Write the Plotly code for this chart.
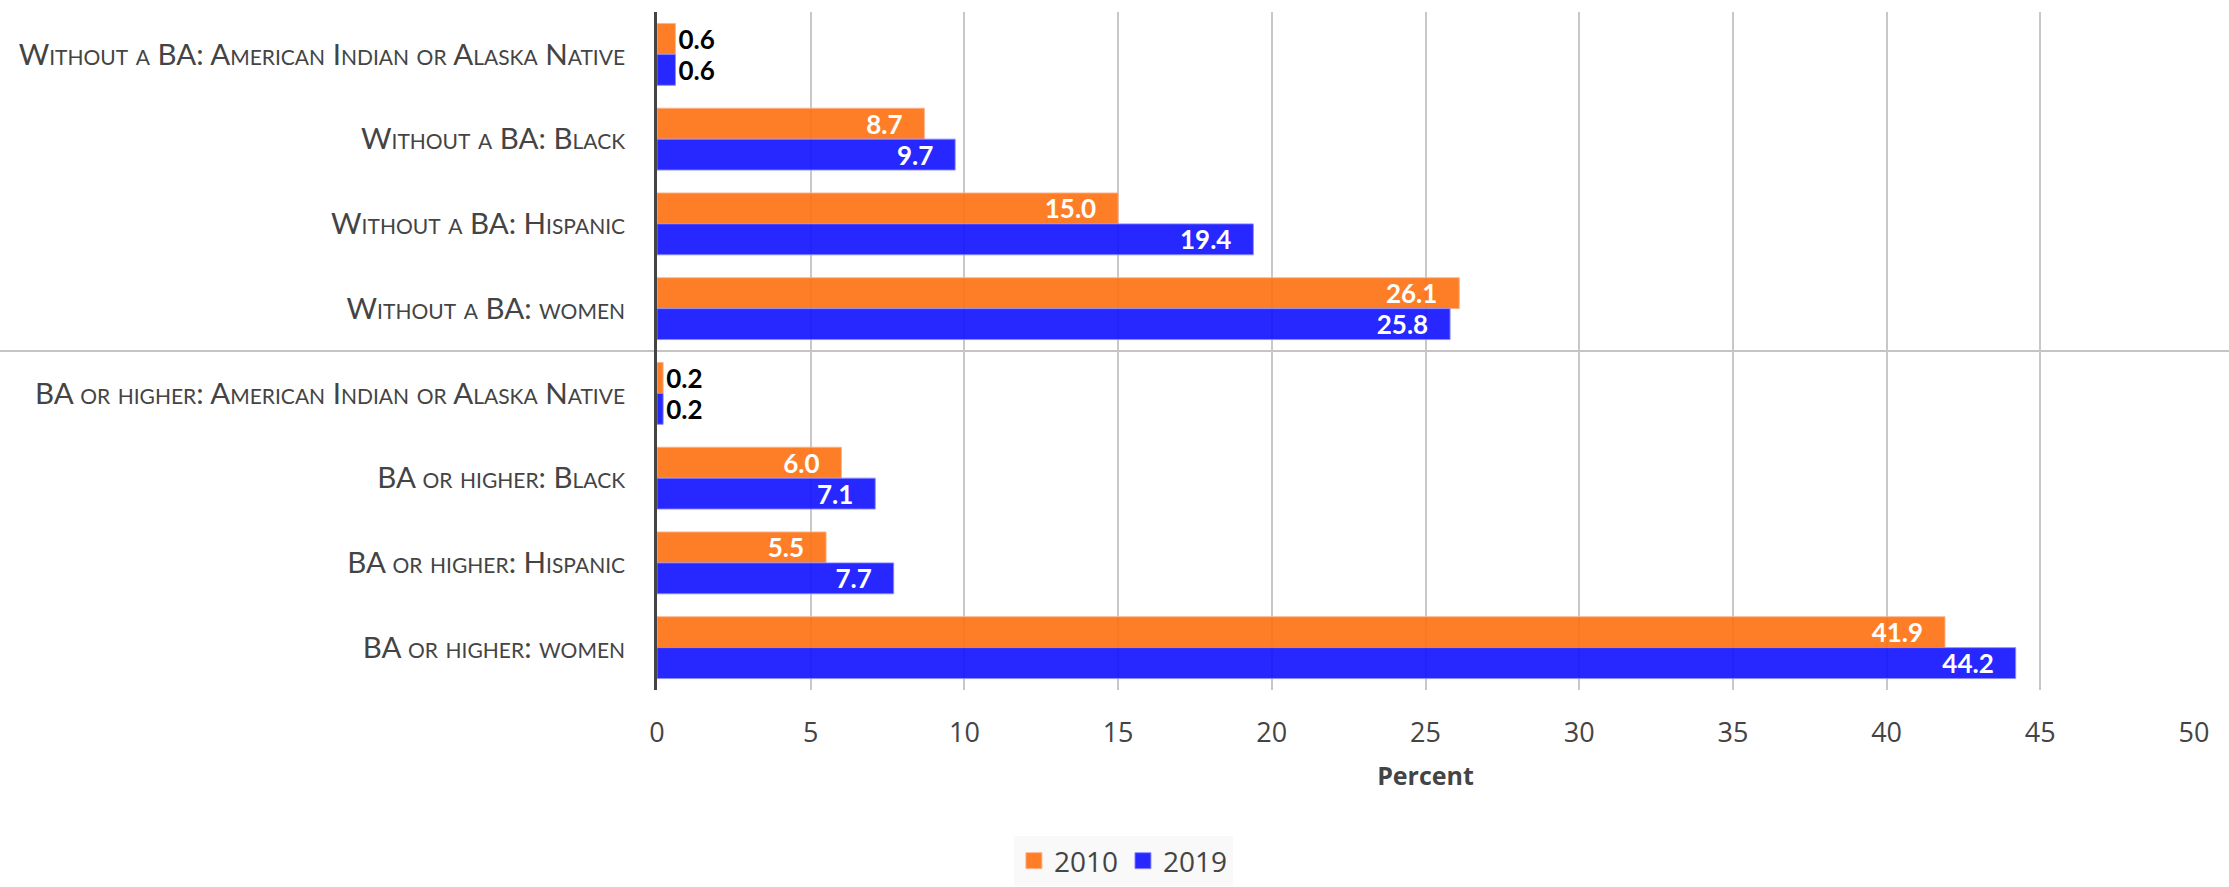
import plotly.graph_objects as go

# Share of workers (percent), by education level and group
categories = [
    "Without a BA: American Indian or Alaska Native",
    "Without a BA: Black",
    "Without a BA: Hispanic",
    "Without a BA: women",
    "BA or higher: American Indian or Alaska Native",
    "BA or higher: Black",
    "BA or higher: Hispanic",
    "BA or higher: women",
]
values_2010 = [0.6, 8.7, 15.0, 26.1, 0.2, 6.0, 5.5, 41.9]
values_2019 = [0.6, 9.7, 19.4, 25.8, 0.2, 7.1, 7.7, 44.2]
series_names = ["2010", "2019"]
x_ticks = [0, 5, 10, 15, 20, 25, 30, 35, 40, 45, 50]

W, H = 2229, 887
M_L, M_R, M_T, M_B = 657, 35, 12, 197
plot_w = W - M_L - M_R

fills = ["rgba(254,112,16,0.9)", "rgba(16,16,255,0.9)"]
edges = ["rgba(253,180,140,0.9)", "rgba(140,140,255,0.9)"]

fig = go.Figure()
for name, vals, fill, edge in zip(series_names, [values_2010, values_2019], fills, edges):
    fig.add_trace(go.Bar(
        name=name,
        y=categories,
        x=vals,
        orientation="h",
        showlegend=False,
        marker=dict(color=fill, line=dict(color=edge, width=1)),
        texttemplate="%{x:.1f}\u00a0\u00a0\u00a0",
        textposition=["inside" if v >= 1 else "outside" for v in vals],
        textangle=0,
        constraintext="none",
        insidetextanchor="end",
        insidetextfont=dict(family="Lato", size=26, color="white", weight="bold"),
        outsidetextfont=dict(family="Lato", size=26, color="black", weight="bold"),
        cliponaxis=False,
    ))

# legend keys: larger square swatches for each year
for name, fill, edge in zip(series_names, fills, edges):
    fig.add_trace(go.Scatter(
        name=name, x=[None], y=[None], mode="markers",
        marker=dict(symbol="square", size=18, color=fill, line=dict(color=edge, width=1)),
        showlegend=True, hoverinfo="skip",
    ))

# divider between the two education groups, running the full width
fig.add_shape(
    type="line", layer="below",
    xref="paper", x0=-M_L / plot_w, x1=1 + M_R / plot_w,
    yref="y", y0=3.5, y1=3.5,
    line=dict(color="#c4c4c4", width=2),
)

fig.update_layout(
    width=W, height=H,
    margin=dict(l=M_L, r=M_R, t=M_T, b=M_B),
    paper_bgcolor="white", plot_bgcolor="white",
    barmode="group", bargap=0.27, bargroupgap=0,
    showlegend=True,
    legend=dict(
        orientation="h",
        xref="container", x=0.504, xanchor="center",
        yref="container", y=1 - 836 / H, yanchor="top",
        bgcolor="#f9f9f9",
        font=dict(family="Open Sans", size=28, color="#444"),
        traceorder="normal",
        itemsizing="trace",
    ),
    xaxis=dict(
        range=[0, 50], tickvals=x_ticks,
        showgrid=True, gridcolor="#c8c8c8", gridwidth=1.5,
        zeroline=False, showline=False, automargin=False,
        ticklabelstandoff=24,
        tickfont=dict(family="Open Sans", size=27, color="#444"),
        title=dict(text="Percent", standoff=18,
                   font=dict(family="Open Sans", size=25, color="#444", weight="bold")),
    ),
    yaxis=dict(
        categoryorder="array", categoryarray=categories,
        autorange="reversed", automargin=False,
        showgrid=False, zeroline=False,
        showline=True, linecolor="#444", linewidth=3,
        ticklabelstandoff=23,
        tickfont=dict(family="Lato", size=29.5, color="#444", variant="small-caps"),
    ),
)

fig.write_html("out.html")
